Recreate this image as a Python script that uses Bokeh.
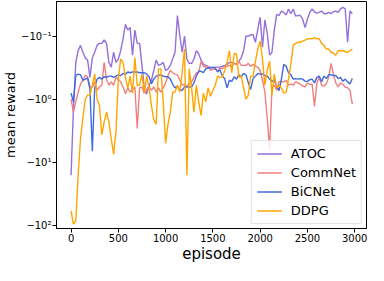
import numpy as np
from bokeh.plotting import figure
from bokeh.models import FixedTicker, Range1d
from bokeh.embed import file_html
from bokeh.resources import INLINE

# ---- data (mean reward per episode) ----
episodes = list(range(0, 3000, 25))

atoc = [
    -16, -1.4, -0.26, -0.17, -0.14, -0.18, -0.22, -0.24, -0.45, -0.22,
    -0.18, -0.14, -0.13, -0.13, -0.115, -0.13, -0.26, -0.31, -0.18, -0.26,
    -0.23, -0.17, -0.11, -0.065, -0.08, -0.073, -0.2, -0.08, -0.13, -0.13,
    -0.29, -0.69, -0.83, -0.6, -0.5, -0.35, -0.24, -0.29, -0.28, -0.26,
    -0.35, -0.33, -0.29, -0.23, -0.18, -0.047, -0.097, -0.18, -0.1, -0.23,
    -0.27, -0.27, -0.23, -0.17, -0.19, -0.24, -0.28, -0.29, -0.31, -0.31,
    -0.32, -0.31, -0.31, -0.31, -0.3, -0.29, -0.28, -0.26, -0.26, -0.27,
    -0.28, -0.25, -0.22, -0.17, -0.1, -0.1, -0.095, -0.095, -0.125, -0.078,
    -0.05, -0.15, -0.055, -0.09, -0.2, -0.18, -0.08, -0.045, -0.047, -0.04,
    -0.042, -0.046, -0.037, -0.044, -0.037, -0.048, -0.047, -0.047, -0.054, -0.073,
    -0.054, -0.042, -0.037, -0.041, -0.043, -0.042, -0.04, -0.044, -0.044, -0.042,
    -0.044, -0.041, -0.04, -0.042, -0.037, -0.035, -0.037, -0.125, -0.04, -0.044,
]

commnet = [
    -1.0, -1.6, -1.1, -0.77, -0.57, -0.5, -0.42, -0.44, -0.64, -0.64,
    -0.53, -0.72, -0.64, -0.6, -0.26, -0.48, -0.6, -0.53, -0.6, -0.45,
    -0.48, -0.53, -0.64, -0.82, -0.66, -0.77, -0.7, -0.64, -2.9, -0.66,
    -0.64, -0.8, -0.7, -0.62, -0.72, -0.64, -0.77, -0.66, -0.77, -0.66,
    -0.55, -0.42, -0.35, -0.38, -0.4, -0.41, -0.5, -0.6, -0.58, -0.62,
    -0.57, -0.53, -0.45, -0.38, -0.38, -0.25, -0.3, -0.31, -0.3, -0.35,
    -0.34, -0.33, -0.36, -0.32, -0.33, -0.3, -0.3, -0.29, -0.3, -0.27,
    -0.28, -0.25, -0.29, -0.29, -0.29, -0.27, -0.3, -0.28, -0.3, -0.31,
    -0.35, -0.5, -0.77, -2.0, -6.3, -0.66, -0.6, -0.72, -0.53, -0.52,
    -0.53, -0.5, -0.6, -0.57, -0.6, -0.53, -0.55, -0.58, -0.62, -0.64,
    -0.55, -0.58, -0.58, -1.3, -0.55, -0.45, -0.6, -0.62, -0.57, -0.45,
    -0.27, -0.4, -0.55, -0.64, -0.55, -0.58, -0.64, -0.66, -0.72, -1.2,
]

bicnet = [
    -0.8, -1.1, -0.42, -0.4, -0.41, -0.5, -0.48, -0.46, -0.7, -6.7,
    -0.66, -0.48, -0.45, -0.48, -0.44, -0.45, -0.43, -0.43, -0.45, -0.43,
    -0.41, -0.42, -0.39, -0.4, -0.37, -0.38, -0.37, -0.37, -0.37, -0.38,
    -0.38, -0.38, -0.4, -0.44, -0.57, -0.48, -0.43, -0.42, -0.41, -0.43,
    -0.44, -0.44, -0.48, -0.58, -0.66, -0.62, -0.72, -0.72, -0.64, -0.64,
    -0.64, -0.64, -0.55, -0.43, -0.36, -0.36, -0.38, -0.33, -0.32, -0.32,
    -0.31, -0.32, -0.37, -0.34, -0.43, -0.47, -0.66, -0.5, -0.52, -0.44,
    -0.48, -0.41, -0.44, -0.39, -0.41, -0.55, -0.7, -0.47, -0.43, -0.39,
    -0.4, -0.4, -0.42, -0.43, -0.48, -0.52, -0.5, -0.62, -0.73, -0.48,
    -0.28, -0.3, -0.38, -0.41, -0.48, -0.47, -0.48, -0.47, -0.48, -0.52,
    -0.52, -0.49, -0.48, -0.55, -0.45, -0.43, -0.53, -0.43, -0.47, -0.41,
    -0.41, -0.42, -0.42, -0.47, -0.45, -0.52, -0.48, -0.53, -0.57, -0.47,
]

ddpg = [
    -59, -96, -85, -16, -4.2, -2.0, -1.0, -0.86, -0.86, -0.6,
    -0.4, -1.0, -1.25, -3.7, -2.3, -1.6, -2.3, -4.2, -7.5, -3.3,
    -0.48, -0.23, -0.26, -0.45, -0.66, -0.43, -0.8, -0.22, -0.6, -0.6,
    -0.4, -0.8, -0.43, -0.66, -1.25, -2.1, -2.5, -0.33, -0.33, -1.1,
    -5.0, -2.5, -1.6, -0.77, -0.77, -0.6, -0.77, -0.38, -0.16, -16,
    -0.33, -0.66, -1.6, -0.6, -1.1, -1.8, -0.8, -1.1, -0.66, -0.9,
    -0.72, -0.6, -0.43, -0.45, -0.45, -0.35, -0.26, -0.17, -0.38, -0.19,
    -0.19, -0.45, -0.43, -0.66, -1.0, -0.86, -0.43, -0.43, -0.25, -0.16,
    -0.12, -0.23, -0.6, -0.35, -0.25, -0.86, -0.4, -0.66, -0.6, -0.66,
    -0.8, -0.77, -0.48, -0.28, -0.14, -0.13, -0.125, -0.125, -0.12, -0.115,
    -0.11, -0.11, -0.11, -0.105, -0.11, -0.11, -0.13, -0.14, -0.16, -0.16,
    -0.18, -0.185, -0.2, -0.17, -0.17, -0.17, -0.175, -0.18, -0.17, -0.16,
]

series_names = ["ATOC", "CommNet", "BiCNet", "DDPG"]
series_values = [atoc, commnet, bicnet, ddpg]
series_colors = ["#9370DB", "#F08080", "#4169E1", "#FFA500"]

x_ticks = [0, 500, 1000, 1500, 2000, 2500, 3000]
y_ticks = [-0.1, -1, -10, -100]
y_tick_labels = ["\u221210\u207b\u00b9", "\u221210\u2070", "\u221210\u00b9", "\u221210\u00b2"]


def symlog(v):
    # symmetric-log position of negative rewards (log region only)
    return -np.log10(-np.asarray(v, dtype=float))


FONT = "DejaVu Sans"

p = figure(
    width=368, height=265,
    output_backend="svg", toolbar_location=None,
    x_range=Range1d(-154, 3125), y_range=Range1d(-2.05, 1.55),
    min_border_left=50, min_border_right=2, min_border_top=1, min_border_bottom=36,
    background_fill_color="white", border_fill_color="white",
)
p.xgrid.visible = False
p.ygrid.visible = False
p.outline_line_color = "black"
p.outline_line_width = 1
p.outline_line_alpha = 1

for name, vals, col in zip(series_names, series_values, series_colors):
    p.line(episodes, symlog(vals), line_color=col, line_width=1.4, legend_label=name)

ytick_pos = [int(round(t)) for t in symlog(y_ticks)]
p.yaxis.ticker = FixedTicker(ticks=ytick_pos)
p.yaxis.major_label_overrides = {k: lab for k, lab in zip(ytick_pos, y_tick_labels)}
p.xaxis.ticker = FixedTicker(ticks=x_ticks)

for ax in (p.xaxis, p.yaxis):
    ax.axis_line_color = "black"
    ax.major_tick_line_color = "black"
    ax.major_tick_out = 4
    ax.major_tick_in = 0
    ax.minor_tick_line_color = None
    ax.major_label_text_font = FONT
    ax.major_label_text_font_size = "10px"
    ax.major_label_text_color = "black"
    ax.axis_label_text_font = FONT
    ax.axis_label_text_font_style = "normal"
    ax.axis_label_text_color = "black"

p.xaxis.axis_label = "episode"
p.xaxis.axis_label_text_font_size = "15px"
p.xaxis.major_label_standoff = 1
p.xaxis.axis_label_standoff = 0
p.yaxis.axis_label = "mean reward"
p.yaxis.axis_label_text_font_size = "13px"
p.yaxis.major_label_standoff = 1
p.yaxis.axis_label_standoff = 0

lg = p.legend[0]
lg.location = "bottom_right"
lg.margin = 4
lg.padding = 5
lg.spacing = 4
lg.glyph_width = 25
lg.glyph_height = 15
lg.label_height = 15
lg.label_standoff = 9
lg.label_text_font = FONT
lg.label_text_font_size = "13px"
lg.label_text_color = "black"
lg.border_line_color = "#cccccc"
lg.border_line_width = 1
lg.background_fill_alpha = 0.8

open("out.html", "w").write(file_html(p, INLINE))
